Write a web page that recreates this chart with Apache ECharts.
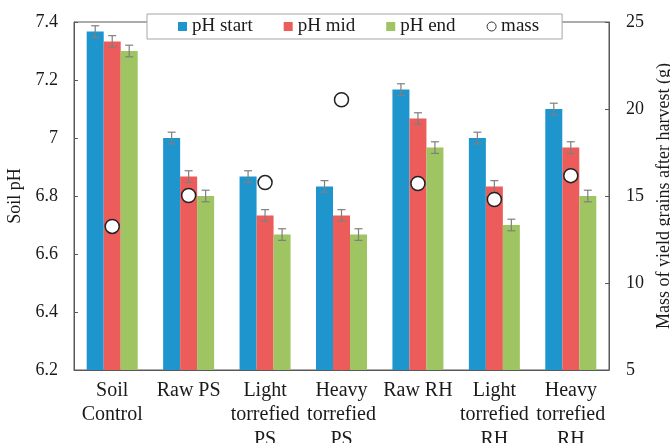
<!DOCTYPE html>
<html>
<head>
<meta charset="utf-8">
<script src="https://cdn.jsdelivr.net/npm/echarts@6/dist/echarts.min.js"></script>
<style>
  html, body { margin: 0; padding: 0; background: #fff; overflow: hidden; }
  #chart { width: 670px; height: 443px; }
</style>
</head>
<body>
<div id="chart"></div>
<script>
// Treatments
var categories = ['Soil\nControl', 'Raw PS', 'Light\ntorrefied\nPS', 'Heavy\ntorrefied\nPS', 'Raw RH', 'Light\ntorrefied\nRH', 'Heavy\ntorrefied\nRH'];

// Soil pH at three sampling points
var phStart = [7.367, 7.0, 6.867, 6.833, 7.167, 7.0, 7.1];
var phMid   = [7.333, 6.867, 6.733, 6.733, 7.067, 6.833, 6.967];
var phEnd   = [7.3, 6.8, 6.667, 6.667, 6.967, 6.7, 6.8];

// Standard errors for each pH series
var errStart = [0.02, 0.02, 0.02, 0.02, 0.02, 0.02, 0.02];
var errMid   = [0.02, 0.02, 0.02, 0.02, 0.02, 0.02, 0.02];
var errEnd   = [0.02, 0.02, 0.02, 0.02, 0.02, 0.02, 0.02];

// Mass of yield grains after harvest (g)
var mass = [13.25, 15.03, 15.77, 20.53, 15.72, 14.8, 16.17];

var colors = ['#1e95cd', '#eb5c5a', '#9ec562'];

var FONT = '"Liberation Serif", "Times New Roman", serif';
var TEXT = '#1a1a1a';
var FRAME = '#595959';
var BAR_W = 17;
var legendText = { fontFamily: FONT, fontSize: 19, color: TEXT };

function errorSeries(values, errs, slot) {
  return {
    type: 'custom',
    yAxisIndex: 0,
    z: 5,
    silent: true,
    data: values.map(function (v, i) { return [i, v, errs[i]]; }),
    renderItem: function (params, api) {
      var idx = api.value(0), v = api.value(1), e = api.value(2);
      var hi = api.coord([idx, v + e]);
      var lo = api.coord([idx, v - e]);
      var x = hi[0] + slot * BAR_W;
      var cap = 4;
      var style = { stroke: '#7f7f7f', lineWidth: 1.2 };
      return {
        type: 'group',
        children: [
          { type: 'line', shape: { x1: x, y1: hi[1], x2: x, y2: lo[1] }, style: style },
          { type: 'line', shape: { x1: x - cap, y1: hi[1], x2: x + cap, y2: hi[1] }, style: style },
          { type: 'line', shape: { x1: x - cap, y1: lo[1], x2: x + cap, y2: lo[1] }, style: style }
        ]
      };
    }
  };
}

var option = {
  animation: false,
  backgroundColor: '#fff',
  textStyle: { fontFamily: FONT, color: TEXT },
  grid: {
    left: 74, right: 61, top: 22, height: 348,
    outerBoundsMode: 'none',
    show: true, borderColor: FRAME, borderWidth: 1, backgroundColor: 'transparent'
  },
  legend: {
    data: [
      { name: 'pH start', icon: 'rect', textStyle: legendText },
      { name: 'pH mid', icon: 'rect', textStyle: legendText },
      { name: 'pH end', icon: 'rect', textStyle: legendText },
      { name: 'mass', icon: 'circle', textStyle: legendText,
        itemStyle: { color: '#fff', borderColor: '#333', borderWidth: 1 } }
    ],
    left: 147,
    top: 14,
    z: 20,
    itemWidth: 9,
    itemHeight: 9,
    itemGap: 31,
    padding: [3, 23, 3, 31],
    backgroundColor: '#fff',
    borderColor: '#a6a6a6',
    borderWidth: 1,
    selectedMode: false,
    textStyle: legendText
  },
  xAxis: {
    type: 'category',
    data: categories,
    axisLine: { show: true, lineStyle: { color: FRAME, width: 1 } },
    axisTick: { show: false },
    axisLabel: {
      fontFamily: FONT, fontSize: 20, color: TEXT, lineHeight: 24.5,
      margin: 8, interval: 0
    },
    splitLine: { show: false }
  },
  yAxis: [
    {
      type: 'value',
      min: 6.2, max: 7.4, interval: 0.2,
      name: 'Soil pH',
      nameLocation: 'middle',
      nameGap: 36,
      nameTextStyle: { fontFamily: FONT, fontSize: 18, color: TEXT },
      axisLine: { show: true, lineStyle: { color: FRAME, width: 1 } },
      axisTick: { show: true, inside: true, length: 4, lineStyle: { color: FRAME } },
      axisLabel: { fontFamily: FONT, fontSize: 18, color: TEXT, margin: 16 },
      splitLine: { show: false }
    },
    {
      type: 'value',
      min: 5, max: 25, interval: 5,
      name: 'Mass of yield grains after harvest (g)',
      nameLocation: 'middle',
      nameGap: 39,
      nameRotate: 90,
      nameTextStyle: { fontFamily: FONT, fontSize: 18, color: TEXT },
      position: 'right',
      axisLine: { show: true, lineStyle: { color: FRAME, width: 1 } },
      axisTick: { show: true, inside: true, length: 4, lineStyle: { color: FRAME } },
      axisLabel: { fontFamily: FONT, fontSize: 18, color: TEXT, margin: 17 },
      splitLine: { show: false }
    }
  ],
  series: [
    { name: 'pH start', type: 'bar', data: phStart, barWidth: BAR_W, barGap: '0%', itemStyle: { color: colors[0] }, z: 2 },
    { name: 'pH mid', type: 'bar', data: phMid, barWidth: BAR_W, barGap: '0%', itemStyle: { color: colors[1] }, z: 2 },
    { name: 'pH end', type: 'bar', data: phEnd, barWidth: BAR_W, barGap: '0%', itemStyle: { color: colors[2] }, z: 2 },
    errorSeries(phStart, errStart, -1),
    errorSeries(phMid, errMid, 0),
    errorSeries(phEnd, errEnd, 1),
    {
      name: 'mass', type: 'scatter', yAxisIndex: 1, data: mass,
      symbol: 'circle', symbolSize: 14, z: 10,
      itemStyle: { color: '#fff', borderColor: '#222', borderWidth: 1.5, opacity: 1 }
    }
  ]
};

var chart = echarts.init(document.getElementById('chart'), null, { renderer: 'canvas' });
chart.setOption(option);
// Redraw once the serif face is in use so every label picks it up
function redraw() { chart.setOption(option, true); }
if (document.fonts && document.fonts.load) {
  document.fonts.load('19px "Liberation Serif"').then(redraw, redraw);
}
</script>
</body>
</html>
